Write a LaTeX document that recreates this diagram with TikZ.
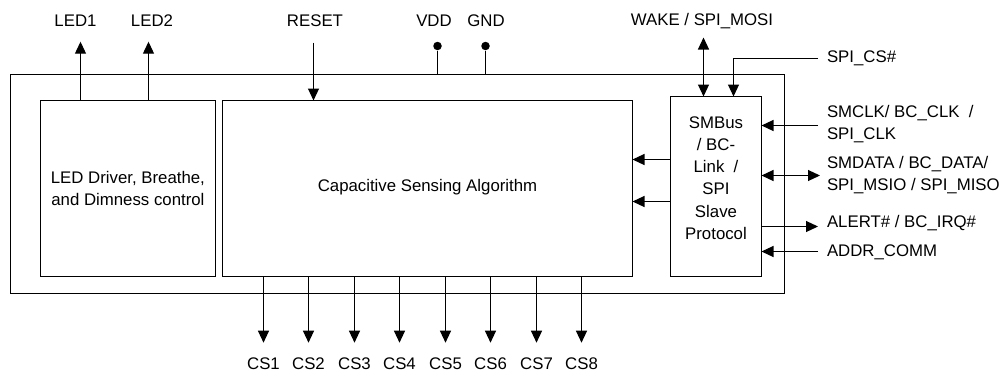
\documentclass[tikz,border=0pt]{standalone}
\usepackage{fontspec}
\setmainfont{Liberation Sans}
\usetikzlibrary{arrows.meta}
\begin{document}
\begin{tikzpicture}[x=1pt,y=-1pt,line width=1.15pt,
  txt/.style={inner sep=0pt,outer sep=0pt,font=\fontsize{16.8}{22.3}\selectfont},
  blk/.style={draw,inner sep=0pt,outer sep=0pt},
  tip/.tip={Triangle[length=12pt,width=11pt]},
  arr/.style={-tip},
  darr/.style={tip-tip},
  pin/.style={circle,fill,inner sep=0pt,minimum size=8.5pt}]
\useasboundingbox (0,0) rectangle (1004,373);
% boxes
\node[blk,minimum width=774pt,minimum height=219pt] (chip) at (397.5,184) {};
\node[blk,minimum width=175pt,minimum height=176pt] (led) at (128,188.5) {};
\node[blk,minimum width=410pt,minimum height=176pt] (csa) at (427.5,188.5) {};
\node[blk,minimum width=91pt,minimum height=180pt] (smb) at (716,186.5) {};
% box texts
\node[txt,align=center] (ledt) at (127.9,188.5) {LED Driver, Breathe,\\and Dimness control};
\node[txt] (csat) at (427.5,187.5) {Capacitive Sensing Algorithm};
\node[txt,align=center] (smbt) at (716,178) {SMBus\\/ BC-\\Link\ \ /\\SPI\\Slave\\Protocol};
% top labels
\node[txt] (l1) at (75.5,20.6) {LED1};
\node[txt] (l2) at (152,20.6) {LED2};
\node[txt] (rst) at (315,20.6) {RESET};
\node[txt] (vdd) at (434,20.6) {VDD};
\node[txt] (gnd) at (486,20.6) {GND};
\node[txt] (wake) at (702,20.6) {WAKE / SPI\_MOSI};
% right labels
\node[txt,anchor=west] (cs) at (827,58.3) {SPI\_CS\#};
\node[txt,anchor=west,align=left] (clk) at (827,124) {SMCLK/ BC\_CLK\ \ /\\SPI\_CLK};
\node[txt,anchor=west,align=left] (dat) at (827,175.3) {SMDATA / BC\_DATA/\\SPI\_MSIO / SPI\_MISO};
\node[txt,anchor=west] (alr) at (827,223.5) {ALERT\# / BC\_IRQ\#};
\node[txt,anchor=west] (adr) at (827,252.5) {ADDR\_COMM};
% pin coordinates
\coordinate (p1) at (80.5,41.7);
\coordinate (p2) at (148.5,41.7);
\coordinate (pr) at (313.5,42.7);
\node[pin] (pv) at (437.5,46) {};
\node[pin] (pg) at (485.5,46) {};
\coordinate (pw) at (703.5,37.5);
\coordinate (pcs) at (818,58.5);
\coordinate (pclk) at (818,125.5);
\coordinate (pdat) at (820,175.5);
\coordinate (palr) at (818,226.5);
\coordinate (padr) at (818,251.5);
% top connectors
\draw[arr] (led.north -| p1) -- (p1);
\draw[arr] (led.north -| p2) -- (p2);
\draw[arr] (pr) -- (csa.north -| pr);
\draw (pv) -- (chip.north -| pv);
\draw (pg) -- (chip.north -| pg);
\draw[darr] (pw) -- (smb.north -| pw);
\draw[arr] (pcs) -- (733.5,58.5) -- (smb.north -| 733.5,0);
% right connectors
\draw[arr] (pclk) -- (smb.east |- pclk);
\draw[darr] (smb.east |- pdat) -- (pdat);
\draw[arr] (smb.east |- palr) -- (palr);
\draw[arr] (padr) -- (smb.east |- padr);
% internal
\draw[arr] (smb.west |- 0,159.5) -- (csa.east |- 0,159.5);
\draw[arr] (smb.west |- 0,201.5) -- (csa.east |- 0,201.5);
% CS outputs
\foreach \i/\xx in {1/263.5,2/308.5,3/354.5,4/399.5,5/445.5,6/490.5,7/536.5,8/581.5}{
  \coordinate (c\i) at (\xx,342.7);
  \draw[arr] (csa.south -| c\i) -- (c\i);
  \node[txt] (cl\i) at (\xx,363.3) {CS\i};
}
\end{tikzpicture}
\end{document}
